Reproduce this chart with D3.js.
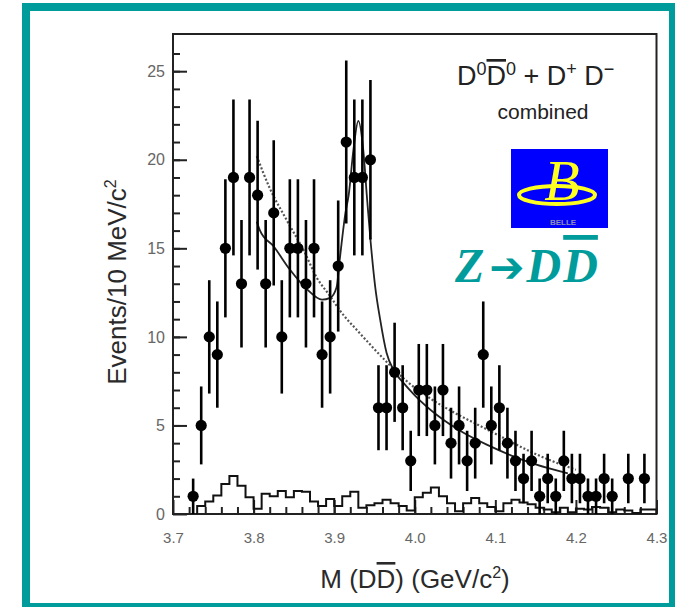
<!DOCTYPE html>
<html>
<head>
<meta charset="utf-8">
<script src="https://cdn.jsdelivr.net/npm/d3@7"></script>
<style>
  body { margin: 0; background: #fff; }
  svg { display: block; font-family: "Liberation Sans", Arial, sans-serif; }
</style>
</head>
<body>
<div id="chart"></div>
<script>
// Data points: bin centres (GeV/c^2), events per bin and their errors
const binCenters = [3.725, 3.735, 3.745, 3.755, 3.765, 3.775, 3.785, 3.795, 3.805, 3.815,
    3.825, 3.835, 3.845, 3.855, 3.865, 3.875, 3.885, 3.895, 3.905, 3.915,
    3.925, 3.935, 3.945, 3.955, 3.965, 3.975, 3.985, 3.995, 4.005, 4.015,
    4.025, 4.035, 4.045, 4.055, 4.065, 4.075, 4.085, 4.095, 4.105, 4.115,
    4.125, 4.135, 4.145, 4.155, 4.165, 4.175, 4.185, 4.195, 4.205, 4.215,
    4.225, 4.235, 4.245, 4.265, 4.285];
const counts = [1, 5, 10, 9, 15, 19, 13, 19, 18, 13,
    17, 10, 15, 15, 13, 15, 9, 10, 14, 21,
    19, 19, 20, 6, 6, 8, 6, 3, 7, 7,
    5, 7, 4, 5, 3, 4, 9, 5, 6, 4,
    3, 2, 3, 1, 2, 1, 3, 2, 2, 1,
    1, 2, 1, 2, 2];
const countErrors = [1.0, 2.2, 3.2, 3.0, 3.9, 4.4, 3.6, 4.4, 4.2, 3.6,
    4.1, 3.2, 3.9, 3.9, 3.6, 3.9, 3.0, 3.2, 3.7, 4.6,
    4.4, 4.4, 4.5, 2.4, 2.4, 2.8, 2.4, 1.7, 2.6, 2.6,
    2.2, 2.6, 2.0, 2.2, 1.7, 2.0, 3.0, 2.2, 2.4, 2.0,
    1.7, 1.4, 1.7, 1.0, 1.4, 1.0, 1.7, 1.4, 1.4, 1.0,
    1.0, 1.4, 1.0, 1.4, 1.4];

// Sideband histogram: lower bin edges and contents
const sideEdges = [3.73, 3.74, 3.75, 3.76, 3.77, 3.78, 3.79, 3.80, 3.81, 3.82,
    3.83, 3.84, 3.85, 3.86, 3.87, 3.88, 3.89, 3.90, 3.91, 3.92,
    3.93, 3.94, 3.95, 3.96, 3.97, 3.98, 3.99, 4.00, 4.01, 4.02,
    4.03, 4.04, 4.05, 4.06, 4.07, 4.08, 4.09, 4.10, 4.11, 4.12,
    4.13, 4.14, 4.15, 4.16, 4.17, 4.18, 4.19, 4.20, 4.21, 4.22,
    4.23, 4.24, 4.25, 4.26, 4.27, 4.28, 4.29];
const sideValues = [0.45, 0.7, 1.05, 1.7, 2.15, 1.6, 0.95, 0.3, 1.15, 1.0,
    1.3, 0.95, 1.3, 1.25, 0.7, 0.45, 0.85, 0.45, 1.0, 1.25,
    0.35, 0.5, 0.6, 0.8, 0.6, 0.45, 0.2, 0.95, 1.2, 1.5,
    1.0, 0.6, 0.15, 0.6, 0.9, 0.6, 0.4, 0.15, 0.6, 0.8,
    0.65, 0.55, 0.35, 0.25, 0.1, 0.35, 0.1, 0.3, 0.25, 0.4,
    0.35, 0.1, 0.25, 0.2, 0.05, 0.25, 0.25];
const sideLastEdge = 4.30;

// Full fit (solid)
const fitMass = [3.804, 3.808, 3.825, 3.845, 3.866, 3.885, 3.895, 3.903, 3.907, 3.914,
    3.918, 3.924, 3.930, 3.936, 3.941, 3.945, 3.951, 3.957, 3.965, 3.974,
    3.986, 4.00, 4.03, 4.06, 4.09, 4.12, 4.15, 4.19];
const fitValues = [16.5, 16.0, 15.1, 13.8, 12.7, 12.1, 12.2, 12.8, 14.4, 17.0,
    18.0, 20.6, 22.2, 20.6, 17.7, 15.5, 12.8, 11.0, 9.1, 8.1,
    7.4, 6.7, 5.5, 4.6, 3.9, 3.3, 2.8, 2.3];

// Background-only fit (dotted)
const bkgMass = [3.804, 3.820, 3.841, 3.862, 3.879, 3.895, 3.907, 3.932, 3.967, 3.99,
    4.02, 4.05, 4.08, 4.11, 4.14, 4.17, 4.20];
const bkgValues = [20.2, 18.4, 16.6, 14.9, 13.3, 12.3, 11.5, 10.2, 8.5, 7.5,
    6.5, 5.7, 5.0, 4.3, 3.6, 3.0, 2.5];

const xTicks = [3.7, 3.8, 3.9, 4.0, 4.1, 4.2, 4.3];
const yTicks = [0, 5, 10, 15, 20, 25];

const W = 675, H = 607;
const plot = {left: 173, right: 656.5, top: 34, bottom: 514};

const svg = d3.select("#chart").append("svg")
    .attr("width", W)
    .attr("height", H);

// teal outer frame
svg.append("rect")
    .attr("x", 26).attr("y", 7)
    .attr("width", 647).attr("height", 600)
    .attr("fill", "none")
    .attr("stroke", "#009b9b")
    .attr("stroke-width", 8);

const x = d3.scaleLinear().domain([3.7, 4.3]).range([plot.left, plot.right]);
const y = d3.scaleLinear().domain([0, 27.1]).range([plot.bottom, plot.top]);

svg.append("clipPath").attr("id", "clip")
  .append("rect")
    .attr("x", plot.left).attr("y", plot.top)
    .attr("width", plot.right - plot.left)
    .attr("height", plot.bottom - plot.top);

// axes, ticks pointing inwards like ROOT
const xMajor = svg.append("g")
    .attr("transform", `translate(0,${plot.bottom})`)
    .call(d3.axisBottom(x).tickValues(xTicks).tickSize(-14).tickPadding(18)
        .tickFormat(d3.format(".1f")));
svg.append("g")
    .attr("transform", `translate(0,${plot.bottom})`)
    .call(d3.axisBottom(x).tickValues(d3.range(3.72, 4.29, 0.02)).tickSize(-7).tickFormat(""));

const yMajor = svg.append("g")
    .attr("transform", `translate(${plot.left},0)`)
    .call(d3.axisLeft(y).tickValues(yTicks).tickSize(-14).tickPadding(8));
svg.append("g")
    .attr("transform", `translate(${plot.left},0)`)
    .call(d3.axisLeft(y).tickValues(d3.range(1, 27, 1)).tickSize(-7).tickFormat(""));

svg.selectAll(".domain").remove();
svg.selectAll(".tick line").attr("stroke", "#222").attr("stroke-width", 2);
xMajor.selectAll("text").style("font-size", "15px").attr("fill", "#666");
yMajor.selectAll("text").style("font-size", "16px").attr("fill", "#666");

// plot frame
svg.append("rect")
    .attr("x", plot.left).attr("y", plot.top)
    .attr("width", plot.right - plot.left)
    .attr("height", plot.bottom - plot.top)
    .attr("fill", "none")
    .attr("stroke", "#222")
    .attr("stroke-width", 2);

const area = svg.append("g").attr("clip-path", "url(#clip)");

// sideband histogram outline
const stepPts = [[sideEdges[0], 0]];
sideEdges.forEach((e, i) => stepPts.push([e, sideValues[i]]));
stepPts.push([sideLastEdge, sideValues[sideValues.length - 1]]);
stepPts.push([sideLastEdge, 0]);
area.append("path")
    .attr("d", d3.line().x(d => x(d[0])).y(d => y(d[1])).curve(d3.curveStepAfter)(stepPts))
    .attr("fill", "none")
    .attr("stroke", "#111")
    .attr("stroke-width", 2);

// fit curves
const curve = d3.line()
    .x(d => x(d[0]))
    .y(d => y(d[1]))
    .curve(d3.curveMonotoneX);

area.append("path")
    .attr("d", curve(d3.zip(bkgMass, bkgValues)))
    .attr("fill", "none")
    .attr("stroke", "#555")
    .attr("stroke-width", 2.2)
    .attr("stroke-dasharray", "2,2");

area.append("path")
    .attr("d", curve(d3.zip(fitMass, fitValues)))
    .attr("fill", "none")
    .attr("stroke", "#222")
    .attr("stroke-width", 1.8);

// data points with error bars
const pts = d3.zip(binCenters, counts, countErrors);
area.selectAll(".err")
    .data(pts)
    .enter()
    .append("line")
    .attr("x1", d => x(d[0]))
    .attr("x2", d => x(d[0]))
    .attr("y1", d => y(Math.max(0, d[1] - d[2])))
    .attr("y2", d => y(d[1] + d[2]))
    .attr("stroke", "#000")
    .attr("stroke-width", 2.6);

area.selectAll(".pt")
    .data(pts)
    .enter()
    .append("circle")
    .attr("cx", d => x(d[0]))
    .attr("cy", d => y(d[1]))
    .attr("r", 5.6)
    .attr("fill", "#000");

// helper for text with superscripts / overlines
function richText(sel, parts, supSize, supShift) {
    let back = 0;
    parts.forEach(p => {
        const t = sel.append("tspan").text(p.t);
        if (p.sup) {
            t.attr("dy", -supShift - back).style("font-size", supSize + "px");
            back = -supShift;
        } else {
            if (back) t.attr("dy", supShift);
            back = 0;
        }
        if (p.bar) t.style("text-decoration", "overline");
    });
}

// axis titles
const xTitle = svg.append("text")
    .attr("x", 415).attr("y", 588)
    .attr("text-anchor", "middle")
    .attr("fill", "#2a2a2a")
    .style("font-size", "26px");
richText(xTitle, [{t: "M (D"}, {t: "D", bar: true}, {t: ") (GeV/c"}, {t: "2", sup: true}, {t: ")"}], 16, 10);

const yTitle = svg.append("text")
    .attr("transform", "translate(126,282) rotate(-90)")
    .attr("text-anchor", "middle")
    .attr("fill", "#2a2a2a")
    .style("font-size", "26px");
richText(yTitle, [{t: "Events/10 MeV/c"}, {t: "2", sup: true}], 16, 10);

// legend text
const leg = svg.append("text")
    .attr("x", 457).attr("y", 85)
    .attr("fill", "#222")
    .style("font-size", "27px");
richText(leg, [{t: "D"}, {t: "0", sup: true}, {t: "D", bar: true}, {t: "0", sup: true},
    {t: " + D"}, {t: "+", sup: true}, {t: " D"}, {t: "\u2212", sup: true}], 18, 10);

svg.append("text")
    .attr("x", 543).attr("y", 119)
    .attr("text-anchor", "middle")
    .attr("fill", "#222")
    .style("font-size", "21px")
    .text("combined");

// Belle logo
const logo = svg.append("g");
logo.append("rect")
    .attr("x", 511).attr("y", 149)
    .attr("width", 97).attr("height", 79)
    .attr("fill", "#0000ff");
logo.append("ellipse")
    .attr("cx", 557).attr("cy", 195)
    .attr("rx", 38).attr("ry", 9)
    .attr("fill", "none")
    .attr("stroke", "#ffff20")
    .attr("stroke-width", 4);
logo.append("text")
    .attr("x", 562).attr("y", 200)
    .attr("text-anchor", "middle")
    .attr("fill", "#ffff20")
    .style("font-family", "'Liberation Serif', serif")
    .style("font-style", "italic")
    .style("font-size", "58px")
    .text("B");
logo.append("text")
    .attr("x", 563).attr("y", 225)
    .attr("text-anchor", "middle")
    .attr("fill", "#9090b0")
    .style("font-size", "8px")
    .style("font-weight", "bold")
    .text("BELLE");

// Z -> DD-bar label
const zText = svg.append("text")
    .attr("x", 455).attr("y", 282)
    .attr("fill", "#009b9b")
    .style("font-family", "'Liberation Serif', 'Times New Roman', serif")
    .style("font-style", "italic")
    .style("font-weight", "bold")
    .style("font-size", "48px");
zText.append("tspan").text("Z");
zText.append("tspan")
    .attr("dx", 5)
    .style("font-family", "'DejaVu Sans', sans-serif")
    .style("font-style", "normal")
    .style("font-size", "42px")
    .text("\u2794");
zText.append("tspan").attr("dx", 2).style("letter-spacing", "2px").text("D");
zText.append("tspan").style("text-decoration", "overline").text("D");
</script>
</body>
</html>
